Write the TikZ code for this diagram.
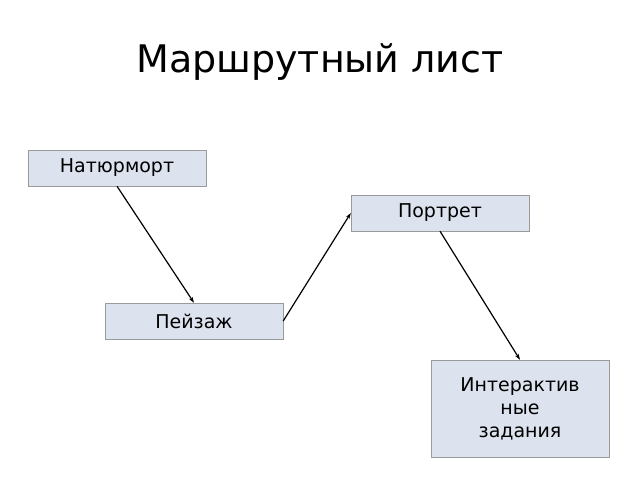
\documentclass[tikz,border=0pt]{standalone}
\usepackage{fontspec}
\setmainfont{DejaVu Sans}
\usetikzlibrary{arrows.meta}
\definecolor{boxfill}{HTML}{DCE3EE}
\definecolor{boxline}{HTML}{9A9A9A}
\tikzset{
  box/.style={draw=boxline, fill=boxfill, minimum width=178pt, minimum height=36pt, inner sep=2pt, font=\fontsize{19}{23}\selectfont, align=center},
  conn/.style={-{Stealth[length=6pt,width=4pt]}, line width=1.2pt}
}
\begin{document}
\begin{tikzpicture}[x=1pt,y=-1pt]
\useasboundingbox (0,0) rectangle (640,480);
\node (title) at (320,62) {\fontsize{38}{44}\selectfont Маршрутный лист};
\node[box] (nat) at (117,168) {Натюрморт};
\node[box] (por) at (440,213) {Портрет};
\node[box] (pei) at (194,321) {Пейзаж};
\node[box, minimum height=97pt] (int) at (520,408.5) {Интерактив\\ные\\задания};
\draw[conn] (nat.south) -- (pei.north);
\draw[conn] (pei.east) -- (por.west);
\draw[conn] (por.south) -- (int.north);
\end{tikzpicture}
\end{document}
